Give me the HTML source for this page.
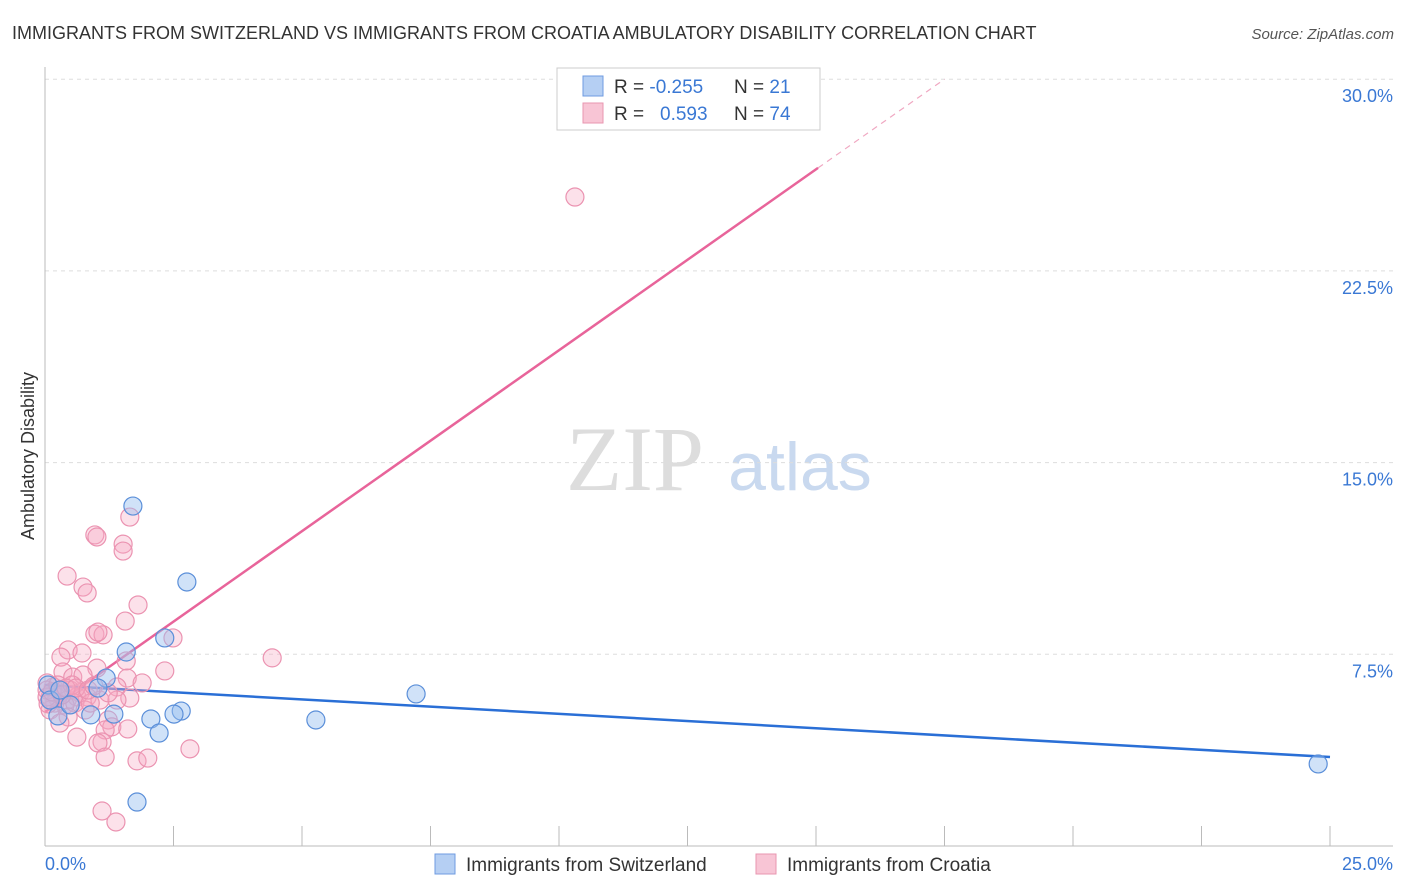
<!DOCTYPE html>
<html><head><meta charset="utf-8"><style>
body{margin:0;background:#fff;font-family:"Liberation Sans",sans-serif;}
svg{display:block}
</style></head><body>
<svg width="1406" height="892">
<text x="12" y="39" font-size="18" fill="#333">IMMIGRANTS FROM SWITZERLAND VS IMMIGRANTS FROM CROATIA AMBULATORY DISABILITY CORRELATION CHART</text>
<text x="1394" y="39" font-size="15" fill="#555" font-style="italic" text-anchor="end">Source: ZipAtlas.com</text>
<text transform="translate(34,456) rotate(-90)" font-size="18" fill="#333" text-anchor="middle">Ambulatory Disability</text>
<g>
<text x="635" y="490" font-size="92" font-family="Liberation Serif,serif" fill="#ddd" text-anchor="middle">ZIP</text>
<text x="800" y="490" font-size="68" fill="#c9d9ef" text-anchor="middle">atlas</text>
</g>
<g id="grid"></g>
<g id="axes"></g>
<g id="lines"></g>
<g id="pts"></g>
<g>
<rect x="557" y="68" width="263" height="62" fill="#fff" stroke="#ccc"/>
<rect x="583" y="76" width="20" height="20" fill="#b5cff3" stroke="#6f9be0"/>
<rect x="583" y="103" width="20" height="20" fill="#f8c5d5" stroke="#e896b0"/>
<text x="614" y="93" font-size="19" fill="#333">R = <tspan fill="#3a78d4">-0.255</tspan><tspan x="734">N = </tspan><tspan fill="#3a78d4">21</tspan></text>
<text x="614" y="120" font-size="19" fill="#333">R = <tspan x="660" fill="#3a78d4">0.593</tspan><tspan x="734">N = </tspan><tspan fill="#3a78d4">74</tspan></text>
</g>
<g>
<rect x="435" y="854" width="20" height="20" fill="#b5cff3" stroke="#6f9be0"/>
<text x="466" y="871" font-size="19" fill="#333">Immigrants from Switzerland</text>
<rect x="756" y="854" width="20" height="20" fill="#f8c5d5" stroke="#e896b0"/>
<text x="787" y="871" font-size="19" fill="#333">Immigrants from Croatia</text>
</g>
</svg>
<script>
const yTicks=[7.5,15,22.5,30];
const yTickLabels=["7.5%","15.0%","22.5%","30.0%"];
const xTickLabels=["0.0%","25.0%"];
const blueX=[1.71,2.76,2.33,1.58,1.19,1.03,0.25,0.89,1.34,2.06,2.65,2.51,2.22,1.79,5.27,7.22,24.77,0.06,0.10,0.49,0.29];
const blueY=[13.3,10.33,8.14,7.59,6.57,6.18,5.09,5.13,5.16,4.97,5.28,5.16,4.42,1.72,4.93,5.95,3.21,6.3,5.71,5.52,6.1];
const pinkX=[1.65,0.97,1.01,1.52,1.52,0.43,0.74,0.82,1.81,1.56,0.97,1.13,1.03,2.49,0.45,0.31,0.72,1.58,4.42,2.33,1.01,0.35,0.54,0.74,1.60,1.89,1.40,0.16,0.29,0.49,0.68,0.10,0.23,0.43,0.62,0.82,0.19,0.39,0.58,0.10,0.78,1.07,0.88,1.65,1.40,0.45,0.29,1.23,1.30,1.17,1.61,0.62,1.11,1.03,1.17,1.79,2.00,2.82,1.11,1.38,10.31,0.04,0.04,0.04,0.06,0.14,0.25,0.33,0.53,0.41,0.60,0.84,0.95,1.23];
const pinkY=[12.87,12.17,12.09,11.81,11.54,10.56,10.13,9.90,9.43,8.80,8.29,8.26,8.37,8.14,7.67,7.39,7.55,7.24,7.36,6.85,6.96,6.81,6.61,6.69,6.57,6.38,6.22,6.22,6.10,6.10,5.99,5.83,5.83,5.71,5.83,5.83,5.59,5.52,5.59,5.32,5.32,5.71,5.59,5.79,5.71,5.05,4.81,4.93,4.66,4.54,4.58,4.26,4.07,4.03,3.48,3.33,3.44,3.80,1.37,0.94,25.39,6.38,6.10,5.83,5.56,6.03,6.30,5.91,6.30,6.18,6.18,6.10,6.26,5.99];
const blueLine=[[0,6.30],[25,3.48]];
const pinkLine=[[0,5.24],[15.04,26.53]];
const pinkDash=[[15.04,26.53],[17.5,30.0]];
const NS="http://www.w3.org/2000/svg";
const X=v=>45+v*51.4, Y=v=>846-v*25.56;
function mk(p,t,a){const e=document.createElementNS(NS,t);for(const k in a)e.setAttribute(k,a[k]);document.getElementById(p).appendChild(e);return e;}
yTicks.forEach((t,i)=>{
 const g=mk('grid','line',{x1:45,x2:1393,y1:Y(t),y2:Y(t),stroke:'#ddd','stroke-dasharray':'4,4'});
 
 
 const l=mk('grid','text',{x:1393,y:Y(t)+23,'font-size':18,fill:'#3a78d4','text-anchor':'end'});
 l.textContent=yTickLabels[i];
 
 
});
const ax=mk('axes','line',{x1:45,x2:45,y1:67,y2:846,stroke:'#bbb'});


const bx=mk('axes','line',{x1:45,x2:1393,y1:846,y2:846,stroke:'#bbb'});


for(let i=0;i<=10;i++){const tk=mk('axes','line',{x1:X(i*2.5),x2:X(i*2.5),y1:826,y2:846,stroke:'#bbb'});
 
 }
[[0,'start',45],[25,'end',1393]].forEach((d,i)=>{const t=mk('axes','text',{x:d[2],y:870,'font-size':18,fill:'#3a78d4','text-anchor':d[1]});t.textContent=xTickLabels[i];
 
 });
function ln(p,c,w,dash,name){const e=mk('lines','line',{x1:X(p[0][0]),y1:Y(p[0][1]),x2:X(p[1][0]),y2:Y(p[1][1]),stroke:c,'stroke-width':w});if(dash)e.setAttribute('stroke-dasharray',dash);
 
 }
ln(blueLine,'#2a6fd6',2.5,null,'trend-line-switzerland');
ln(pinkLine,'#e8649a',2.5,null,'trend-line-croatia');
ln(pinkDash,'#f0a8c2',1.2,'6,5','trend-line-croatia-extension');
pinkX.forEach((x,i)=>{const c=mk('pts','circle',{cx:X(x),cy:Y(pinkY[i]),r:9,fill:'rgba(246,170,195,0.35)',stroke:'#eb93b1','stroke-width':1.2});
 
 });
blueX.forEach((x,i)=>{const c=mk('pts','circle',{cx:X(x),cy:Y(blueY[i]),r:9,fill:'rgba(150,190,240,0.45)',stroke:'#5b8fd9','stroke-width':1.2});
 
 });
</script>
</body></html>
